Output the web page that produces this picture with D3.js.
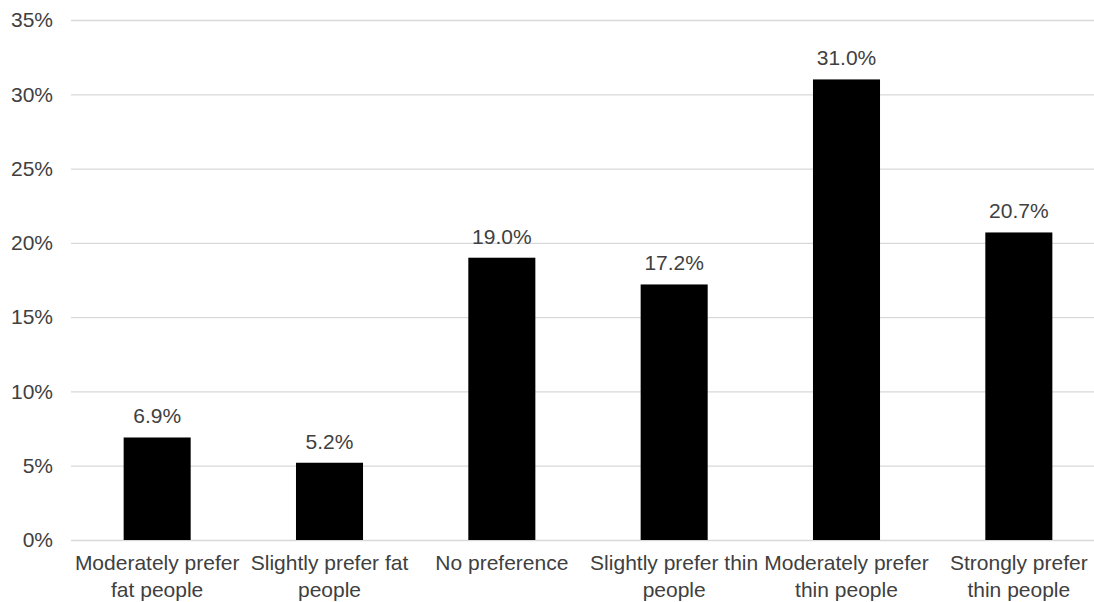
<!DOCTYPE html>
<html>
<head>
<meta charset="utf-8">
<script src="https://cdn.jsdelivr.net/npm/d3@7"></script>
<style>
  html, body { margin: 0; padding: 0; background: #fff; }
  svg { display: block; font-family: "Liberation Sans", Arial, sans-serif; }
</style>
</head>
<body>
<svg id="chart" width="1094" height="602"></svg>
<script>
// Preference shares by category
const categories = [
  ["Moderately prefer", "fat people"],
  ["Slightly prefer fat", "people"],
  ["No preference"],
  ["Slightly prefer thin", "people"],
  ["Moderately prefer", "thin people"],
  ["Strongly prefer", "thin people"]
];
const values = [6.9, 5.2, 19.0, 17.2, 31.0, 20.7];
const yTicks = [0, 5, 10, 15, 20, 25, 30, 35];

const width = 1094, height = 602;
const svg = d3.select("#chart");

const keys = categories.map((c, i) => i);
const x = d3.scaleBand().domain(keys).range([71, 1105]).paddingInner(0.611).paddingOuter(0.3055);
const y = d3.scaleLinear().domain([0, 35]).range([540, 20]);

// Horizontal gridlines
svg.append("g")
  .selectAll("line")
  .data(yTicks)
  .join("line")
  .attr("x1", 71).attr("x2", width)
  .attr("y1", d => y(d) + 0.5).attr("y2", d => y(d) + 0.5)
  .attr("stroke", "#d9d9d9").attr("stroke-width", 1.3);

// Y axis labels
const yAxis = d3.axisLeft(y).tickValues(yTicks).tickFormat(d => d + "%").tickSize(0).tickPadding(0);
const gy = svg.append("g").attr("transform", "translate(53,0)").call(yAxis);
gy.select(".domain").remove();
gy.selectAll("text")
  .attr("font-size", 21).attr("fill", "#404040")
  .attr("font-family", "Liberation Sans, Arial, sans-serif");

// Bars
svg.append("g")
  .selectAll("rect")
  .data(values)
  .join("rect")
  .attr("x", (d, i) => x(i))
  .attr("width", x.bandwidth())
  .attr("y", d => y(d))
  .attr("height", d => y(0) - y(d))
  .attr("fill", "#000");

// Value labels
svg.append("g")
  .selectAll("text")
  .data(values)
  .join("text")
  .attr("x", (d, i) => x(i) + x.bandwidth() / 2)
  .attr("y", d => y(d) - 14)
  .attr("text-anchor", "middle")
  .attr("font-size", 21).attr("fill", "#404040")
  .text(d => d.toFixed(1) + "%");

// Category labels
const catG = svg.append("g")
  .selectAll("text")
  .data(categories)
  .join("text")
  .attr("x", (d, i) => x(i) + x.bandwidth() / 2)
  .attr("y", 570)
  .attr("text-anchor", "middle")
  .attr("font-size", 21).attr("fill", "#404040");
catG.selectAll("tspan")
  .data(d => d)
  .join("tspan")
  .attr("x", function() { return d3.select(this.parentNode).attr("x"); })
  .attr("dy", (d, i) => i === 0 ? 0 : 27)
  .text(d => d);
</script>
</body>
</html>
